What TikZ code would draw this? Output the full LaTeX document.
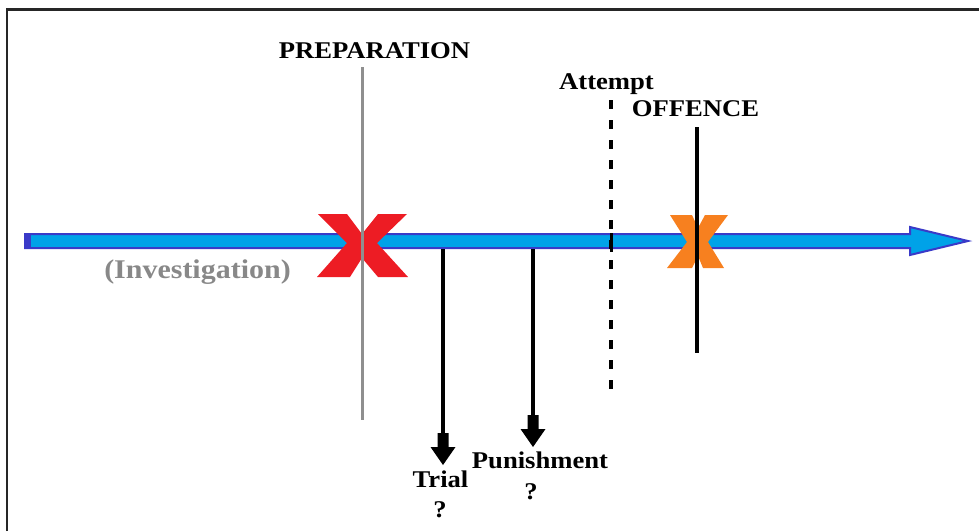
\documentclass[tikz,border=0pt]{standalone}
\usepackage{fontspec}
\setmainfont{Liberation Serif}[FakeStretch=1.11]
\usetikzlibrary{arrows.meta}
\definecolor{axisfill}{HTML}{00A2E8}
\definecolor{axisedge}{HTML}{3A3AC8}
\definecolor{xred}{HTML}{ED1C24}
\definecolor{xorange}{HTML}{F7801F}
\definecolor{prepgray}{HTML}{8F8F8F}
\definecolor{invgray}{HTML}{888888}
\begin{document}
\begin{tikzpicture}[x=1pt,y=-1pt,
  lbl/.style={font=\fontsize{24}{28}\selectfont\bfseries, inner sep=0pt, anchor=base},
  shaftline/.style={line width=3.5pt, black},
  blockhead/.pic={\fill[black] (0,0) -- (-12.5,-18) -- (-5.5,-18) -- (-5.5,-32) -- (5.5,-32) -- (5.5,-18) -- (12.5,-18) -- cycle;},
  frameline/.style={line width=2.5pt, black!85}]
\useasboundingbox (0,0) rectangle (979,531);
% frame
\draw[frameline] (7,531) -- (7,9.5) -- (979,9.5);
% time axis
\filldraw[fill=axisfill, draw=axisedge, line width=2pt, line join=miter]
  (25,234) -- (910,234) -- (910,227) -- (968,241) -- (910,255) -- (910,248) -- (25,248) -- cycle;
\fill[axisedge] (25,234) rectangle (31,248);
% red X
\fill[xred] (318,214) -- (347,214) -- (362,234) -- (378,214) -- (407,214) -- (377,243)
  -- (408,277) -- (378,277) -- (362,258) -- (350,277) -- (317,277) -- (347,243) -- cycle;
% preparation line
\coordinate (prepTop) at (362,67);
\coordinate (prepBot) at (362,420);
\draw[prepgray, line width=3pt] (prepTop) -- (prepBot);
% attempt dashed line
\coordinate (attTop) at (611,100);
\coordinate (attBot) at (611,391);
\draw[black, line width=4pt, dash pattern=on 9pt off 11pt] (attTop) -- (attBot);
\draw[black, line width=3pt] (611,233) -- (611,252);
% orange X
\fill[xorange] (670,215) -- (692,215) -- (698,228) -- (705,215) -- (728,215) -- (708,242)
  -- (724,268) -- (703,268) -- (698,256) -- (692,268) -- (667,268) -- (687,242) -- cycle;
% offence line
\coordinate (offTop) at (697,127);
\coordinate (offBot) at (697,353);
\draw[black, line width=3.5pt] (offTop) -- (offBot);
% down arrows
\coordinate (trialTop) at (443,249);
\coordinate (trialTip) at (443,465);
\coordinate (punTop) at (533,249);
\coordinate (punTip) at (533,447);
\draw[shaftline] (trialTop) -- ([yshift=30pt]trialTip);
\pic at (trialTip) {blockhead};
\draw[shaftline] (punTop) -- ([yshift=30pt]punTip);
\pic at (punTip) {blockhead};
% labels
\node[lbl] (prep) at (374.5,58) {PREPARATION};
\node[lbl] (att) at (606.5,89) {Attempt};
\node[lbl] (off) at (695.5,116) {OFFENCE};
\node[lbl] (trial) at (440.5,487) {Trial};
\node[lbl] (trialq) at (440,517) {?};
\node[lbl] (pun) at (540,468) {Punishment};
\node[lbl] (punq) at (531,499) {?};
\node[lbl, font=\fontsize{27}{30}\selectfont\bfseries, text=invgray] (inv) at (197.5,278) {(Investigation)};
\end{tikzpicture}
\end{document}
